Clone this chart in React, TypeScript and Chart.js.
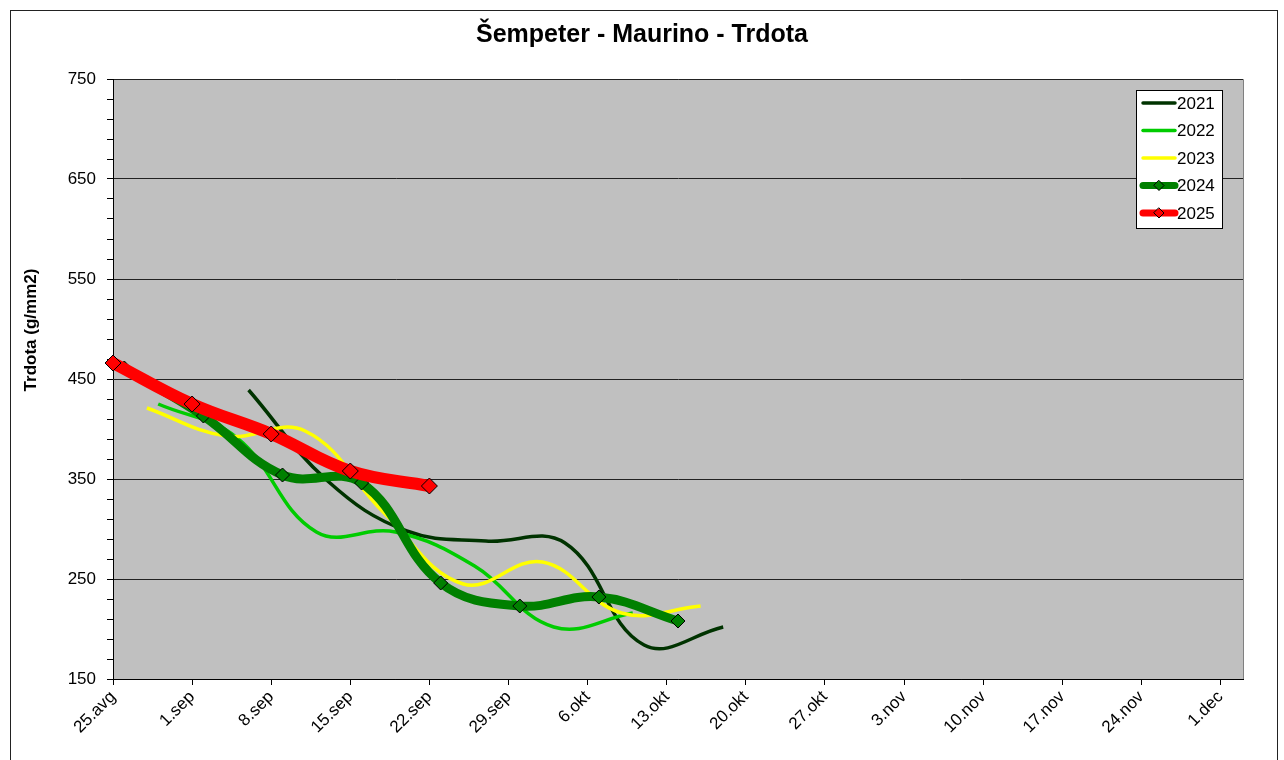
import React, { useEffect, useRef } from "react";
import { Chart, registerables } from "chart.js";

Chart.register(...registerables);

const TITLE = "Šempeter - Maurino - Trdota";
const Y_TITLE = "Trdota (g/mm2)";

// x axis: days counted from 25 Aug, one tick label per week
const xTickLabels = [
  "25.avg", "1.sep", "8.sep", "15.sep", "22.sep", "29.sep", "6.okt", "13.okt",
  "20.okt", "27.okt", "3.nov", "10.nov", "17.nov", "24.nov", "1.dec",
];
const yearNames = ["2021", "2022", "2023", "2024", "2025"];

const days2021 = [12, 19, 26, 33, 40, 47, 54];
const vals2021 = [439, 348, 298, 288, 286, 184, 202];

const days2022 = [4, 11, 18, 25, 32, 39, 46];
const vals2022 = [425, 391, 297, 297, 263, 202, 216];

const days2023 = [3, 10, 17, 24, 31, 38, 45, 52];
const vals2023 = [421, 393, 398, 316, 245, 267, 216, 223];

const days2024 = [1, 8, 15, 22, 29, 36, 43, 50];
const vals2024 = [461, 413, 354, 346, 246, 223, 232, 208];

const days2025 = [0, 7, 14, 21, 28];
const vals2025 = [466, 425, 395, 358, 343];

const FONT = "Arial, 'Liberation Sans', sans-serif";

const zip = (d: number[], v: number[]) => d.map((x, i) => ({ x, y: v[i] }));

const styles = [
  { color: "#003300", width: 3.5, radius: 0, order: 4 },
  { color: "#00CC00", width: 3.5, radius: 0, order: 3 },
  { color: "#FFFF00", width: 3.5, radius: 0, order: 2 },
  { color: "#008000", width: 9, radius: 7, order: 1 },
  { color: "#FF0000", width: 12, radius: 8, order: 0 },
];

const seriesData = [
  zip(days2021, vals2021),
  zip(days2022, vals2022),
  zip(days2023, vals2023),
  zip(days2024, vals2024),
  zip(days2025, vals2025),
];

const backgroundPlugin = {
  id: "bgPlot",
  beforeDraw(chart: any) {
    const { ctx, chartArea } = chart;
    ctx.save();
    ctx.fillStyle = "#ffffff";
    ctx.fillRect(0, 0, chart.width, chart.height);
    // outer frame
    ctx.strokeStyle = "#222";
    ctx.lineWidth = 1;
    ctx.strokeRect(10.5, 10.5, 1267, 900);
    // plot area
    ctx.fillStyle = "#C0C0C0";
    ctx.fillRect(chartArea.left, chartArea.top, chartArea.right - chartArea.left, chartArea.bottom - chartArea.top);
    ctx.strokeStyle = "#808080";
    ctx.beginPath();
    ctx.moveTo(chartArea.left, chartArea.top + 0.5);
    ctx.lineTo(chartArea.right + 0.5, chartArea.top + 0.5);
    ctx.lineTo(chartArea.right + 0.5, chartArea.bottom);
    ctx.stroke();
    // chart title
    ctx.fillStyle = "#000";
    ctx.font = `bold 25px ${FONT}`;
    ctx.textAlign = "center";
    ctx.textBaseline = "middle";
    ctx.fillText(TITLE, chart.width / 2, 35);
    ctx.restore();
  },
};

const overlayPlugin = {
  id: "overlay",
  afterDraw(chart: any) {
    const { ctx } = chart;
    ctx.save();
    // y axis title
    ctx.translate(31, 330);
    ctx.rotate(-Math.PI / 2);
    ctx.fillStyle = "#000";
    ctx.font = `bold 17px ${FONT}`;
    ctx.textAlign = "center";
    ctx.textBaseline = "middle";
    ctx.fillText(Y_TITLE, 0, 0);
    ctx.restore();

    // legend
    ctx.save();
    const bx = 1136, by = 90, bw = 86, bh = 138;
    ctx.fillStyle = "#ffffff";
    ctx.fillRect(bx, by, bw, bh);
    ctx.strokeStyle = "#000";
    ctx.lineWidth = 1;
    ctx.strokeRect(bx + 0.5, by + 0.5, bw, bh);
    yearNames.forEach((name, i) => {
      const st = styles[i];
      const y = by + 13 + i * 27.5;
      ctx.strokeStyle = st.color;
      ctx.lineWidth = st.radius > 0 ? 7 : 3.5;
      ctx.lineCap = "round";
      ctx.beginPath();
      ctx.moveTo(bx + 7, y);
      ctx.lineTo(bx + 39, y);
      ctx.stroke();
      if (st.radius > 0) {
        const cx = bx + 23, r = 5;
        ctx.beginPath();
        ctx.moveTo(cx, y - r);
        ctx.lineTo(cx + r, y);
        ctx.lineTo(cx, y + r);
        ctx.lineTo(cx - r, y);
        ctx.closePath();
        ctx.fillStyle = st.color;
        ctx.fill();
        ctx.lineWidth = 1;
        ctx.strokeStyle = "#000";
        ctx.stroke();
      }
      ctx.fillStyle = "#000";
      ctx.font = `17px ${FONT}`;
      ctx.textAlign = "left";
      ctx.textBaseline = "middle";
      ctx.fillText(name, bx + 41, y + 1);
    });
    ctx.restore();
  },
};

export default function App() {
  const ref = useRef<HTMLCanvasElement>(null);

  useEffect(() => {
    if (!ref.current) return;
    const chart = new Chart(ref.current, {
      type: "line",
      data: {
        datasets: yearNames.map((name, i) => ({
          label: name,
          data: seriesData[i],
          borderColor: styles[i].color,
          backgroundColor: styles[i].color,
          borderWidth: styles[i].width,
          pointRadius: styles[i].radius,
          pointHoverRadius: styles[i].radius,
          pointStyle: "rectRot",
          pointBackgroundColor: styles[i].color,
          pointBorderColor: "#000",
          pointBorderWidth: 1,
          tension: 0.4,
          fill: false,
          clip: false as any,
          order: styles[i].order,
          borderCapStyle: "butt",
        })),
      },
      options: {
        responsive: false,
        animation: false,
        events: [],
        layout: { padding: { left: 0, right: 41, top: 79, bottom: 0 } },
        plugins: {
          legend: { display: false },
          tooltip: { enabled: false },
          title: { display: false },
        },
        scales: {
          x: {
            type: "linear",
            min: 0,
            max: 100,
            afterFit: (s: any) => { s.height = 81; },
            ticks: {
              stepSize: 7,
              autoSkip: false,
              includeBounds: false,
              maxRotation: 45,
              minRotation: 45,
              color: "#000",
              padding: 2,
              font: { family: FONT, size: 17 },
              callback: (v: any) => {
                const n = Number(v);
                return n % 7 === 0 ? xTickLabels[n / 7] ?? "" : "";
              },
            },
            grid: { drawOnChartArea: false, tickLength: 6, tickColor: "#000", color: "#000" },
            border: { color: "#000", width: 1 },
          },
          y: {
            type: "linear",
            min: 150,
            max: 750,
            afterFit: (s: any) => { s.width = 113; },
            ticks: {
              stepSize: 20,
              autoSkip: false,
              color: "#000",
              padding: 11,
              font: { family: FONT, size: 17 },
              callback: (v: any) => ((Number(v) - 150) % 100 === 0 ? String(v) : ""),
            },
            grid: {
              color: (c: any) => (c.tick && (c.tick.value - 150) % 100 === 0 ? "#222" : "rgba(0,0,0,0)"),
              tickColor: "#000",
              tickLength: 6,
            },
            border: { color: "#000", width: 1 },
          },
        },
      },
      plugins: [backgroundPlugin, overlayPlugin],
    });
    return () => chart.destroy();
  }, []);

  return (
    <div style={{ position: "fixed", left: 0, top: 0, width: 1284, height: 760, background: "#fff" }}>
      <canvas ref={ref} width={1284} height={760} style={{ display: "block" }} />
    </div>
  );
}
